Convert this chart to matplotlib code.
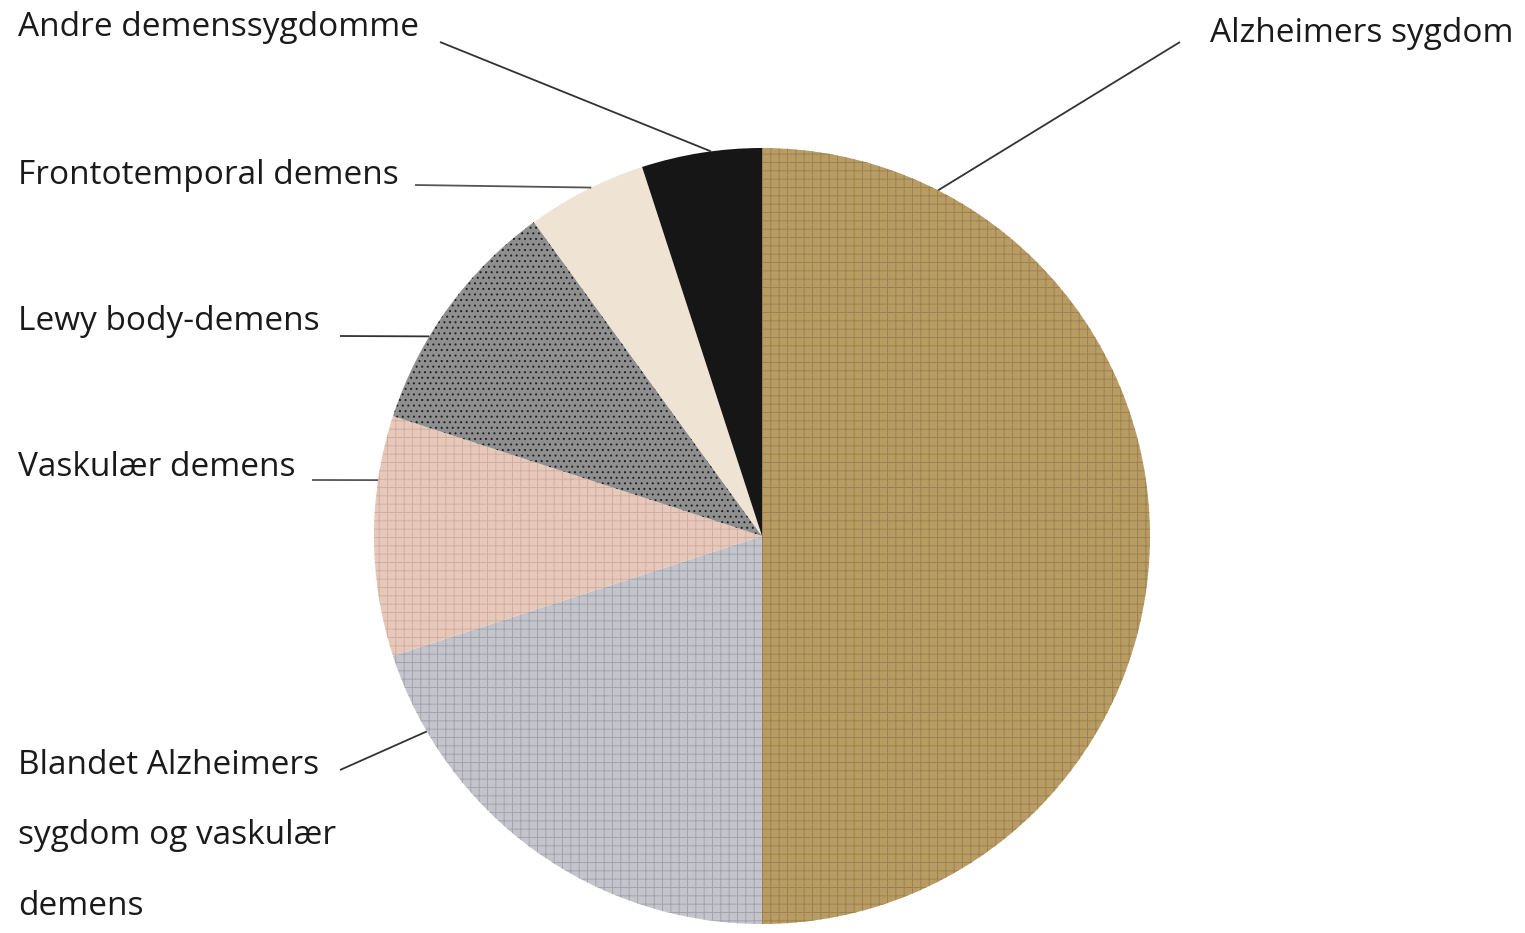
import numpy as np
import matplotlib
matplotlib.use("Agg")
import matplotlib.pyplot as plt

# Slices, clockwise from 12 o'clock (percent)
labels = ["Alzheimers sygdom",
          "Blandet Alzheimers\nsygdom og vaskulær\ndemens",
          "Vaskulær demens",
          "Lewy body-demens",
          "Frontotemporal demens",
          "Andre demenssygdomme"]
shares = [50, 20, 10, 10, 5, 5]

face_colors = ["#b89c64", "#c4c4cc", "#e6c9bb", "#8f8f8f", "#efe3d3", "#161616"]
hatch_colors = ["#9c8250", "#a3a3ad", "#d2ae9f", "#1e1e1e", "#e3d5c3", "#161616"]
hatches = ["++", "++", "++", "...", "", ""]

# label text position (px, from top-left), where the leader starts, and where on
# the wedge (fraction of its angle, counter-clockwise) the leader ends
label_xy = [(1210, 33), (18, 836), (18, 467), (18, 322), (18, 175), (18, 28)]
line_start = [(1180, 42), (340, 770), (312, 480), (340, 336), (415, 185), (440, 42)]
wedge_frac = [0.85, 0.17, 0.27, 0.64, 0.45, 0.42]
line_colors = ["#333333", "#333333", "#555555", "#333333", "#555555", "#333333"]

W, H = 1525, 933
cx, cy, r = 762, H - 536, 388

plt.rcParams["hatch.linewidth"] = 0.7
fig = plt.figure(figsize=(W / 100, H / 100), dpi=100)
ax = fig.add_axes([0, 0, 1, 1])

wedges, _ = ax.pie(shares, startangle=90, counterclock=False, center=(cx, cy),
                   radius=r, colors=face_colors, frame=True)
ax.set_xlim(0, W)
ax.set_ylim(0, H)
ax.set_aspect("equal")
ax.axis("off")
for w, hc, h in zip(wedges, hatch_colors, hatches):
    w.set_edgecolor(hc)
    w.set_linewidth(0)
    w.set_hatch(h)

for w, lab, (tx, ty), (lx, ly), f, lc in zip(wedges, labels, label_xy, line_start,
                                            wedge_frac, line_colors):
    a = np.deg2rad(w.theta1 + f * (w.theta2 - w.theta1))
    ex, ey = cx + r * np.cos(a), cy + r * np.sin(a)
    ax.plot([lx, ex], [H - ly, ey], color=lc, lw=1.3, solid_capstyle="butt")
    ax.text(tx, H - ty, lab, ha="left", va="center", fontsize=24,
            family="Open Sans", color="#1a1a1a", linespacing=2.5)

fig.savefig("out.png", dpi=100, facecolor="white")
